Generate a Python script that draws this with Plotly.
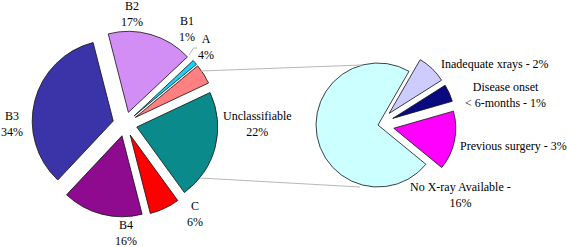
import plotly.graph_objects as go

W, H = 567, 247

# ---- data ----
main_labels = ["A", "B1", "B2", "B3", "B4", "C", "Unclassifiable"]
main_values = [4, 1, 17, 34, 16, 6, 22]

sub_labels = ["Inadequate xrays", "Disease onset < 6-months", "Previous surgery", "No X-ray Available"]
sub_values = [1.7, 1.0, 3.4, 16.0]
sub_breaks = [0, 2, 0, 4]  # words on first line (0 = single line)

# ---- styles ----
main_colors = ["#FF8080", "#1AD1F5", "#D38EF5", "#3A34A8", "#8E0A8E", "#FF0000", "#0A8A8A"]
sub_colors = ["#CCCCFF", "#0A0A80", "#FF00FF", "#CCFFFF"]
FONT = dict(family="Liberation Serif, 'Times New Roman', 'DejaVu Serif', serif", size=12, color="black")

# label block centres (px)
main_label_pos = [(206, 46.5), (187, 29.5), (132, 13.5), (12, 123.5), (126, 232.5), (195, 213.5), (257.5, 123.5)]
sub_label_pos = [(495, 64), (505.5, 95), (513, 145.5), (460.5, 195)]


def px(x, y):
    return x / W, 1 - y / H


def dom(cx, cy, half):
    x0, y1 = px(cx - half, cy - half)
    x1, y0 = px(cx + half, cy + half)
    return dict(x=[x0, x1], y=[y0, y1])


fig = go.Figure()

main_pull = 0.15
fig.add_trace(go.Pie(
    labels=main_labels, values=main_values, sort=False,
    direction="counterclockwise", rotation=50.4,
    pull=[main_pull] * len(main_values),
    marker=dict(colors=main_colors, line=dict(color="#111111", width=0.8)),
    textinfo="none", hoverinfo="label+percent",
    domain=dom(125, 124, 81 * (1 + main_pull)),
    showlegend=False,
))

sub_pull = 0.26
fig.add_trace(go.Pie(
    labels=sub_labels, values=sub_values, sort=False,
    direction="clockwise", rotation=30,
    pull=[sub_pull, sub_pull, sub_pull, 0],
    marker=dict(colors=sub_colors, line=dict(color="#111111", width=0.8)),
    textinfo="none", hoverinfo="label",
    domain=dom(378, 125, 62 * (1 + sub_pull)),
    showlegend=False,
))

annotations = []


def add_label(lines, pos):
    ax, ay = px(*pos)
    annotations.append(dict(
        x=ax, y=ay, xref="paper", yref="paper",
        text="<br>".join(ln.replace("<", "&lt;") for ln in lines),
        showarrow=False, xanchor="center", yanchor="middle", align="center",
        borderpad=0, font=FONT))


for lab, v, pos in zip(main_labels, main_values, main_label_pos):
    add_label([lab, f"{round(v)}%"], pos)

for lab, v, brk, pos in zip(sub_labels, sub_values, sub_breaks, sub_label_pos):
    words = f"{lab} - {round(v)}%".split(" ")
    if brk:
        lines = [" ".join(words[:brk]), " ".join(words[brk:])]
    else:
        lines = [" ".join(words)]
    add_label(lines, pos)

shapes = []
# connector lines between the two pies
for (x0, y0), (x1, y1) in [((201, 71), (362, 65)), ((200, 178), (360, 187))]:
    a0, b0 = px(x0, y0)
    a1, b1 = px(x1, y1)
    shapes.append(dict(type="line", xref="paper", yref="paper", x0=a0, y0=b0, x1=a1, y1=b1,
                       line=dict(color="#B8B8B8", width=1)))
# short leader for label A
pts = [px(189, 55), px(193.5, 48), px(197, 48)]
path = "M {} {} L {} {} L {} {}".format(*[c for p in pts for c in p])
shapes.append(dict(type="path", xref="paper", yref="paper", path=path,
                   line=dict(color="#B8B8B8", width=1)))

fig.update_layout(
    width=W, height=H, margin=dict(l=0, r=0, t=0, b=0),
    paper_bgcolor="white", plot_bgcolor="white",
    annotations=annotations, shapes=shapes, showlegend=False,
)

fig.write_html("out.html", config={"displayModeBar": False},
               post_script="document.body.style.margin='0';document.body.style.overflow='hidden';")
